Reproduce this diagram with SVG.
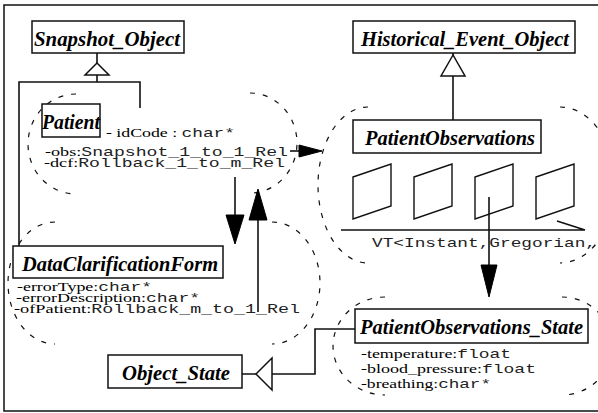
<svg xmlns="http://www.w3.org/2000/svg" width="598" height="413" viewBox="0 0 598 413">
<style>
.box{fill:#fff;stroke:#111;stroke-width:1.5}
.title{font-family:"Liberation Serif",serif;font-weight:bold;font-style:italic;font-size:20px;fill:#000}
.attr{font-family:"Liberation Serif",serif;font-size:13.5px;fill:#000}
.mono{font-family:"Liberation Mono",monospace;font-size:13.5px;fill:#222}
.line{fill:none;stroke:#111;stroke-width:1.6}
.dash{fill:none;stroke:#111;stroke-width:1.2;stroke-dasharray:5,8}
.head{fill:#000;stroke:#000;stroke-width:1}
.gen{fill:#fff;stroke:#111;stroke-width:1.5}
.frame{fill:none;stroke:#111;stroke-width:1.4}
</style>
<rect x="0" y="0" width="598" height="413" fill="#fff"/>
<rect x="4" y="5" width="610" height="406" fill="none" stroke="#111" stroke-width="1.5"/>

<g id="instances">
<path class="dash" d="M76,94 A48,50 0 0 0 76,194"/>
<path class="dash" d="M250,93 A47,50 0 0 1 250,193"/>
<path class="dash" d="M55,222 A47,61 0 0 0 55,344"/>
<path class="dash" d="M272,222 A48,61 0 0 1 272,344"/>
<path class="dash" d="M368,107 A50,78 0 0 0 368,263"/>
<path class="dash" d="M560,107 A55,78 0 0 1 560,263"/>
<path class="dash" d="M385,297 A52,49 0 0 0 385,395"/>
<path class="dash" d="M562,297 A50,49 0 0 1 562,395"/>
</g>

<g id="connectors">
<path class="line" d="M97,53 V63 M97,75 V82 M19,246 V82 H140 V108"/>
<polygon class="gen" points="97,63 85,75 109,75"/>
<path class="line" d="M453,53 V55 M453,76 V120"/>
<polygon class="gen" points="453,55 441,76 465,76"/>
<path class="line" d="M290,151 H300"/>
<polygon class="head" points="299,145 322,151 299,157"/>
<path class="line" d="M235,177 V216"/>
<polygon class="head" points="226,215 244,215 235,244"/>
<path class="line" d="M258,312 V219"/>
<polygon class="head" points="258,189 249,220 267,220"/>
<path class="line" d="M489,197 V266"/>
<polygon class="head" points="481,265 497,265 489,297"/>
<path class="line" d="M242,374 H256 M272,374 H315 V329 H355"/>
<polygon class="gen" points="256,374 272,358 272,390"/>
</g>

<g id="Snapshot_Object">
<rect class="box" x="32" y="21" width="152" height="32"/>
<text class="title" x="34" y="46" textLength="146" lengthAdjust="spacingAndGlyphs">Snapshot_Object</text>
</g>

<g id="Historical_Event_Object">
<rect class="box" x="353" y="21" width="222" height="32"/>
<text class="title" x="361" y="46" textLength="208" lengthAdjust="spacingAndGlyphs">Historical_Event_Object</text>
</g>

<g id="Patient">
<rect class="box" x="42" y="104" width="58" height="33"/>
<text class="title" x="42" y="129" textLength="58" lengthAdjust="spacingAndGlyphs">Patient</text>
<text class="attr" x="106" y="137" textLength="129" lengthAdjust="spacingAndGlyphs">- idCode : <tspan class="mono">char*</tspan></text>
<text class="attr" x="45" y="156" textLength="243" lengthAdjust="spacingAndGlyphs">-obs:<tspan class="mono">Snapshot_1_to_1_Rel</tspan></text>
<text class="attr" x="44" y="167" textLength="241" lengthAdjust="spacingAndGlyphs">-dcf:<tspan class="mono">Rollback_1_to_m_Rel</tspan></text>
</g>

<g id="PatientObservations">
<rect class="box" x="353" y="120" width="188" height="33"/>
<text class="title" x="365" y="145" textLength="170" lengthAdjust="spacingAndGlyphs">PatientObservations</text>
<polygon class="frame" points="353,177 391,164 391,206 353,219"/>
<polygon class="frame" points="414,177 452,164 452,206 414,219"/>
<polygon class="frame" points="475,177 513,164 513,206 475,219"/>
<polygon class="frame" points="536,177 574,164 574,206 536,219"/>
<path class="line" d="M341,230 H585 M557,221 L585,230"/>
<text class="mono" x="372" y="247" textLength="224" lengthAdjust="spacingAndGlyphs">VT&lt;Instant,Gregorian,</text>
</g>

<g id="DataClarificationForm">
<rect class="box" x="13" y="246" width="210" height="32"/>
<text class="title" x="22" y="271" textLength="196" lengthAdjust="spacingAndGlyphs">DataClarificationForm</text>
<text class="attr" x="17" y="291" textLength="135" lengthAdjust="spacingAndGlyphs">-errorType:<tspan class="mono">char*</tspan></text>
<text class="attr" x="16" y="302" textLength="184" lengthAdjust="spacingAndGlyphs">-errorDescription:<tspan class="mono">char*</tspan></text>
<text class="attr" x="14" y="313" textLength="286" lengthAdjust="spacingAndGlyphs">-ofPatient:<tspan class="mono">Rollback_m_to_1_Rel</tspan></text>
</g>

<g id="Object_State">
<rect class="box" x="108" y="355" width="134" height="33"/>
<text class="title" x="122" y="380" textLength="108" lengthAdjust="spacingAndGlyphs">Object_State</text>
</g>

<g id="PatientObservations_State">
<rect class="box" x="355" y="309" width="233" height="34"/>
<text class="title" x="360" y="334" textLength="223" lengthAdjust="spacingAndGlyphs">PatientObservations_State</text>
<text class="attr" x="361" y="358" textLength="150" lengthAdjust="spacingAndGlyphs">-temperature:<tspan class="mono">float</tspan></text>
<text class="attr" x="361" y="373" textLength="175" lengthAdjust="spacingAndGlyphs">-blood_pressure:<tspan class="mono">float</tspan></text>
<text class="attr" x="361" y="388" textLength="130" lengthAdjust="spacingAndGlyphs">-breathing:<tspan class="mono">char*</tspan></text>
</g>
</svg>
